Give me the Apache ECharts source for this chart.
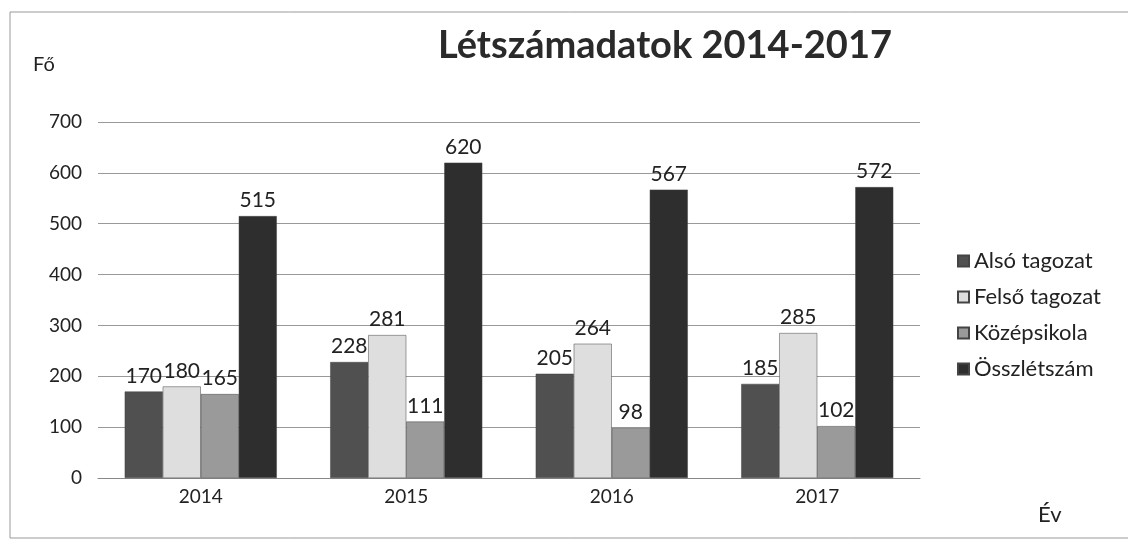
<!DOCTYPE html>
<html><head><meta charset="utf-8">
<script src="https://cdn.jsdelivr.net/npm/echarts@6/dist/echarts.min.js"></script>
<style>html,body{margin:0;padding:0;background:#fff}#c{width:1128px;height:554px}</style>
</head><body><div id="c"></div>
<script>
const categories = ['2014','2015','2016','2017'];
const also = [170, 228, 205, 185];
const felso = [180, 281, 264, 285];
const kozep = [165, 111, 98, 102];
const ossz = [515, 620, 567, 572];
const seriesNames = ['Alsó tagozat','Felső tagozat','Középsikola','Összlétszám'];
const colors = ['#505050','#dedede','#9a9a9a','#2e2e2e'];
const font = 'Lato';
const chart = echarts.init(document.getElementById('c'));
const mk = (name, data, color) => ({
  name, type: 'bar', data, barGap: '0%', barCategoryGap: '26%',
  itemStyle: { color, borderColor: '#444', borderWidth: 0.5 },
  label: { show: true, position: 'top', color: '#222', fontSize: 21, fontFamily: font, distance: 5 }
});
chart.setOption({
  animation: false,
  title: { text: 'Létszámadatok 2014-2017', left: 660, top: 22, textAlign: 'center',
    textStyle: { fontFamily: 'Lato', fontWeight: 'bold', fontSize: 38, color: '#2a2a2a' } },
  graphic: [
    { type: 'rect', shape: { x: 10, y: 12, width: 1130, height: 526 }, style: { fill: 'none', stroke: '#999', lineWidth: 1 } },
    { type: 'text', left: 33, top: 55, style: { text: 'Fő', fontSize: 20, fontFamily: font, fill: '#222' } },
    { type: 'text', left: 1038, top: 504, style: { text: 'Év', fontSize: 22, fontFamily: font, fill: '#222' } }
  ],
  legend: { orient: 'vertical', left: 952, top: 245, itemGap: 14, itemWidth: 11, itemHeight: 11,
    icon: 'rect', textStyle: { fontSize: 22, fontFamily: font, color: '#222' } ,
    data: seriesNames },
  grid: { left: 98, right: 208, top: 122, bottom: 76, containLabel: false },
  xAxis: { type: 'category', data: categories,
    axisLine: { lineStyle: { color: '#888' } }, axisTick: { show: false },
    axisLabel: { fontSize: 19, fontFamily: font, color: '#222', margin: 9 } },
  yAxis: { type: 'value', min: 0, max: 700, interval: 100,
    axisLine: { show: false }, axisTick: { show: false },
    splitLine: { lineStyle: { color: '#999', width: 1 } },
    axisLabel: { fontSize: 19, fontFamily: font, color: '#222', margin: 16 } },
  series: [ mk(seriesNames[0], also, colors[0]), mk(seriesNames[1], felso, colors[1]),
            mk(seriesNames[2], kozep, colors[2]), mk(seriesNames[3], ossz, colors[3]) ]
});
</script></body></html>
